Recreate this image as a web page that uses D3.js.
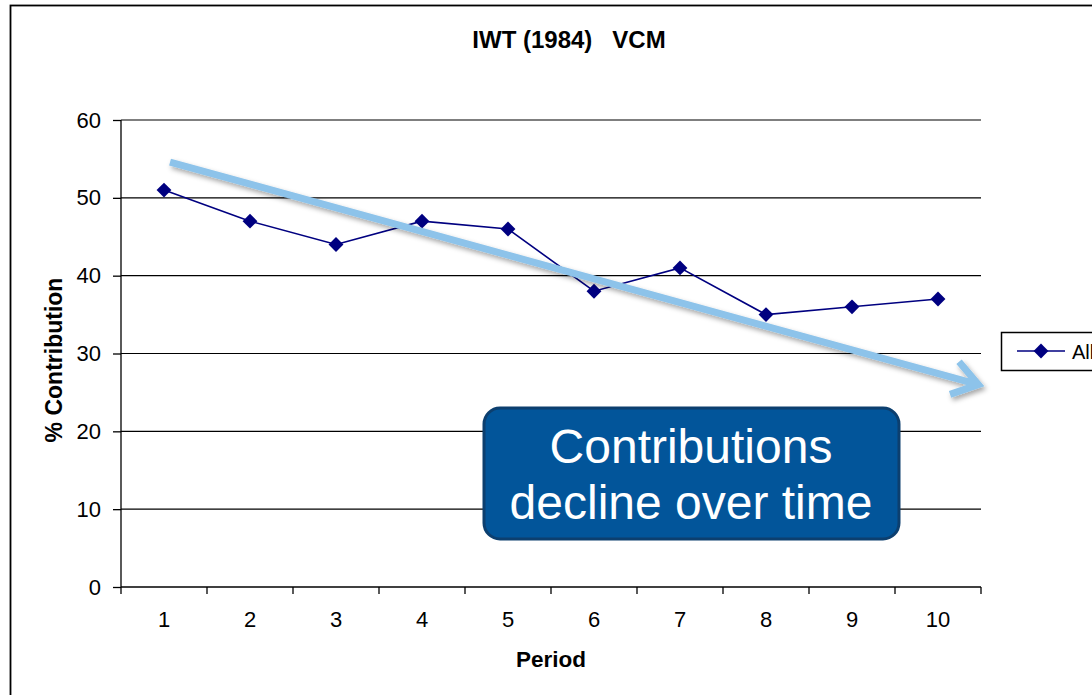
<!DOCTYPE html>
<html><head><meta charset="utf-8">
<script src="https://cdn.jsdelivr.net/npm/d3@7"></script>
<style>html,body{margin:0;padding:0;background:#fff;overflow:hidden}svg{display:block;font-family:Arial,"Liberation Sans",sans-serif}</style>
</head><body>
<svg id="c" width="1092" height="695"></svg>
<script>
const periods = [1,2,3,4,5,6,7,8,9,10];
const contribution = [51,47,44,47,46,38,41,35,36,37];
const yTicks = [0,10,20,30,40,50,60];
const seriesName = "All";
const titleText = "IWT (1984)   VCM";
const calloutLines = ["Contributions","decline over time"];
const trendStart = {period: 1.07, value: 54.6};
const trendEnd = {period: 10.47, value: 26};

const svg = d3.select("#c");
svg.append("rect").attr("x",10.5).attr("y",5.5).attr("width",1100).attr("height",700)
  .attr("fill","#fff").attr("stroke","#000").attr("stroke-width",1.8);

const L=121, R=981, T=120, B=587;
const x = d3.scaleBand().domain(periods).range([L,R]);
const y = d3.scaleLinear().domain([0,60]).range([B,T]);

// grid
svg.append("g").selectAll("line").data(yTicks.filter(d=>d>0)).join("line")
  .attr("x1",L).attr("x2",R).attr("y1",d=>y(d)).attr("y2",d=>y(d))
  .attr("stroke","#000").attr("stroke-width",1.2);

// y axis
const ya = svg.append("g").attr("transform",`translate(${L},0)`)
  .call(d3.axisLeft(y).tickValues(yTicks).tickSize(8).tickPadding(12));
ya.select(".domain").attr("stroke","#000").attr("stroke-width",1.3).attr("d",`M0,${T}V${B}`);
ya.selectAll(".tick line").attr("stroke-width",1.3);
ya.selectAll("text").attr("font-size",22).attr("fill","#000");

// x axis
const xa = svg.append("g").attr("transform",`translate(0,${B})`)
  .call(d3.axisBottom(x).tickSize(0).tickPadding(24));
xa.select(".domain").attr("stroke","#000").attr("stroke-width",1.3).attr("d",`M${L},0H${R}`);
xa.selectAll("text").attr("font-size",22).attr("fill","#000");
const bounds = [...periods.map(p=>x(p)), R];
svg.append("g").selectAll("line").data(bounds).join("line")
  .attr("x1",d=>d).attr("x2",d=>d).attr("y1",B).attr("y2",B+7)
  .attr("stroke","#000").attr("stroke-width",1.3);

// title & labels
svg.append("text").attr("x",569).attr("y",48).attr("text-anchor","middle")
  .style("white-space","pre").attr("xml:space","preserve")
  .attr("font-size",24).attr("font-weight","bold").text(titleText);
svg.append("text").attr("x",551).attr("y",667).attr("text-anchor","middle")
  .attr("font-size",22.5).attr("font-weight","bold").text("Period");
svg.append("text").attr("transform","translate(62,360) rotate(-90)").attr("text-anchor","middle")
  .attr("font-size",23).attr("font-weight","bold").text("% Contribution");

// series
const cx = p => x(p)+x.bandwidth()/2;
const line = d3.line().x((d,i)=>cx(periods[i])).y(d=>y(d));
svg.append("path").datum(contribution).attr("d",line).attr("fill","none")
  .attr("stroke","#000080").attr("stroke-width",1.6);
const diamond = d3.symbol().type(d3.symbolSquare).size(110);
svg.append("g").selectAll("path").data(contribution).join("path")
  .attr("transform",(d,i)=>`translate(${cx(periods[i])},${y(d)}) rotate(45)`)
  .attr("d",diamond).attr("fill","#000080");

// trend arrow
const defs = svg.append("defs");
const f = defs.append("filter").attr("id","sh").attr("x","-10%").attr("y","-50%").attr("width","120%").attr("height","200%");
f.append("feDropShadow").attr("dx",2).attr("dy",3).attr("stdDeviation",2.5).attr("flood-color","#000").attr("flood-opacity",0.35);
const sx = cx(1) + (trendStart.period-1)*x.bandwidth(), sy = y(trendStart.value);
const ex = cx(1) + (trendEnd.period-1)*x.bandwidth(), ey = y(trendEnd.value);
const ang = Math.atan2(ey-sy, ex-sx);
const ah = 30, aw = 0.6;
const p1 = [ex - ah*Math.cos(ang-aw), ey - ah*Math.sin(ang-aw)];
const p2 = [ex - ah*Math.cos(ang+aw), ey - ah*Math.sin(ang+aw)];
const ag = svg.append("g").attr("filter","url(#sh)");
ag.append("path").attr("d",`M${sx},${sy}L${ex},${ey}M${p1[0]},${p1[1]}L${ex},${ey}L${p2[0]},${p2[1]}`)
  .attr("fill","none").attr("stroke","#8dc3ea").attr("stroke-width",7).attr("stroke-linejoin","miter").attr("stroke-linecap","butt");

// callout
const cg = svg.append("g");
cg.append("rect").attr("x",484).attr("y",408).attr("width",415).attr("height",131).attr("rx",16)
  .attr("fill","#02559a").attr("stroke","#0c3f6f").attr("stroke-width",3);
cg.selectAll("text").data(calloutLines).join("text")
  .attr("x",691).attr("y",(d,i)=>463+i*56).attr("text-anchor","middle")
  .attr("font-size",48).attr("fill","#fff").text(d=>d);

// legend
svg.append("rect").attr("x",1001.5).attr("y",332.5).attr("width",120).attr("height",38)
  .attr("fill","#fff").attr("stroke","#000").attr("stroke-width",1.5);
svg.append("line").attr("x1",1017).attr("x2",1065).attr("y1",351).attr("y2",351)
  .attr("stroke","#000080").attr("stroke-width",1.6);
svg.append("path").attr("transform","translate(1041,351) rotate(45)").attr("d",diamond).attr("fill","#000080");
svg.append("text").attr("x",1072).attr("y",359).attr("font-size",20).text(seriesName);
</script>
</body></html>
